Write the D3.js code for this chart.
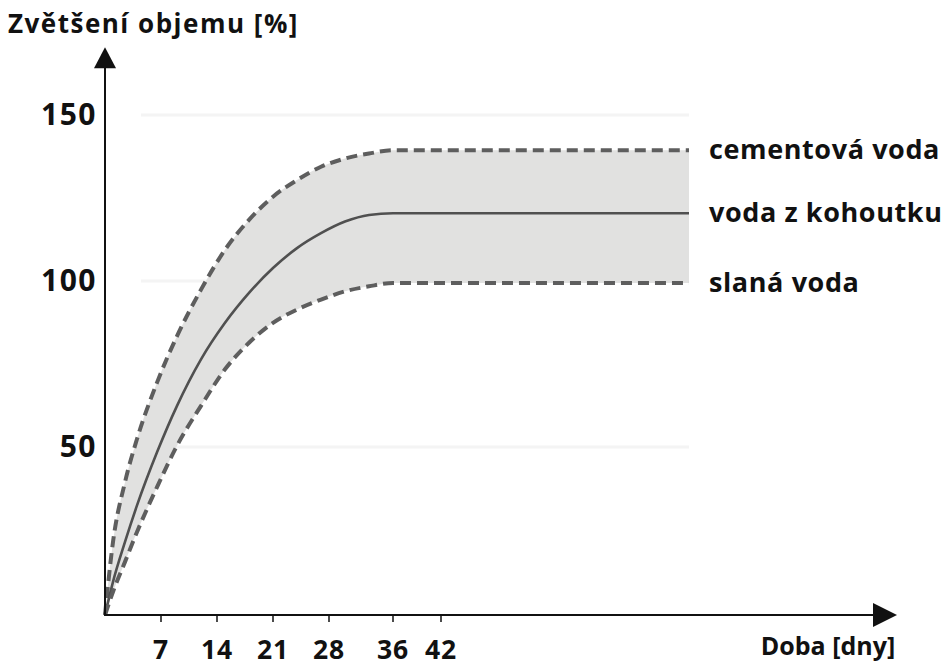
<!DOCTYPE html>
<html>
<head>
<meta charset="utf-8">
<script src="https://cdn.jsdelivr.net/npm/d3@7"></script>
<style>
  html, body { margin: 0; padding: 0; background: #fff; }
  svg { display: block; }
  text { font-family: "Open Sans", Lato, sans-serif; font-weight: bold; fill: #111; }
</style>
</head>
<body>
<svg id="chart" width="946" height="668"></svg>
<script>
// ---- data ----
const days          = [0, 1, 2.5, 4, 6.5, 9, 12, 15, 18, 21, 24, 27, 30, 33, 36, 73];
const cementovaVoda = [0, 22, 40, 53, 70, 84, 98, 110, 119, 126, 131, 135, 137.5, 139, 140, 140];
const vodaZKohoutku = [0, 10, 22, 33, 49, 63, 77, 88, 97, 104.5, 110.5, 115, 118.5, 120.5, 121, 121];
const slanaVoda     = [0, 7, 16, 25, 38.5, 51, 63, 74, 82, 88, 92, 95, 97.5, 99, 100, 100];
const seriesNames   = ["cementová voda", "voda z kohoutku", "slaná voda"];
const xTickValues   = [7, 14, 21, 28, 36, 42];
const yTickValues   = [50, 100, 150];
const gridValues    = [50, 100, 150];
const yTitle = "Zvětšení objemu [%]";
const xTitle = "Doba [dny]";

// ---- scales ----
const svg = d3.select("#chart");
const x = d3.scaleLinear().domain([0, 42]).range([105, 441]);
const y = d3.scaleLinear().domain([0, 100]).range([615, 283]);

const xAxisEnd = 99;   // days, arrow tip
const yAxisEnd = 171;  // %, arrow tip

// gridlines (very faint)
svg.append("g").selectAll("line").data(gridValues).join("line")
  .attr("x1", x(4.5)).attr("x2", x(73))
  .attr("y1", d => y(d) - 2).attr("y2", d => y(d) - 2)
  .attr("stroke", "#f4f4f4").attr("stroke-width", 3);

// band
const bandData = days.map((d, i) => ({ d, hi: cementovaVoda[i], lo: slanaVoda[i] }));
svg.append("path")
  .datum(bandData)
  .attr("fill", "#e1e1e0")
  .attr("d", d3.area().curve(d3.curveMonotoneX)
    .x(p => x(p.d)).y0(p => y(p.lo)).y1(p => y(p.hi)));

const line = d3.line().curve(d3.curveMonotoneX).x(p => x(p[0])).y(p => y(p[1]));
const series = [cementovaVoda, vodaZKohoutku, slanaVoda];
series.forEach((vals, i) => {
  const pts = days.map((d, j) => [d, vals[j]]);
  svg.append("path")
    .datum(pts)
    .attr("fill", "none")
    .attr("stroke", i === 1 ? "#505050" : "#5e5e5e")
    .attr("stroke-width", i === 1 ? 2.6 : 4)
    .attr("stroke-dasharray", i === 1 ? null : "11,6")
    .attr("d", line);
});

// series labels
svg.append("g").selectAll("text").data(seriesNames).join("text")
  .attr("x", x(73) + 20)
  .attr("y", (d, i) => y(series[i][series[i].length - 1]) + 9)
  .attr("font-size", 27)
  .attr("letter-spacing", 0.6)
  .text(d => d);

// axes
const axisColor = "#111";
svg.append("line")
  .attr("x1", x(0)).attr("x2", x(xAxisEnd) - 20)
  .attr("y1", y(0)).attr("y2", y(0))
  .attr("stroke", axisColor).attr("stroke-width", 2);
svg.append("line")
  .attr("x1", x(0)).attr("x2", x(0))
  .attr("y1", y(0) + 1).attr("y2", y(yAxisEnd) + 18)
  .attr("stroke", axisColor).attr("stroke-width", 2);

// arrows
const xt = x(xAxisEnd), yt = y(0);
svg.append("path")
  .attr("d", `M${xt},${yt} L${xt - 24},${yt - 12} L${xt - 24},${yt + 12} Z`)
  .attr("fill", axisColor);
const ax = x(0), ay = y(yAxisEnd);
svg.append("path")
  .attr("d", `M${ax},${ay} L${ax - 11},${ay + 21} L${ax + 11},${ay + 21} Z`)
  .attr("fill", axisColor);

// x ticks
const xt_g = svg.append("g");
xt_g.selectAll("line").data(xTickValues).join("line")
  .attr("x1", d => x(d)).attr("x2", d => x(d))
  .attr("y1", y(0)).attr("y2", y(0) + 7)
  .attr("stroke", axisColor).attr("stroke-width", 1.5);
xt_g.selectAll("text").data(xTickValues).join("text")
  .attr("x", d => x(d)).attr("y", 659)
  .attr("text-anchor", "middle").attr("font-size", 26.5)
  .attr("letter-spacing", 0.8)
  .text(d => d);

// y tick labels
svg.append("g").selectAll("text").data(yTickValues).join("text")
  .attr("x", 97).attr("y", d => y(d) + 8)
  .attr("text-anchor", "end").attr("font-size", 30)
  .attr("letter-spacing", 1.5)
  .text(d => d);

// titles
svg.append("text").attr("x", 8).attr("y", 33).attr("font-size", 26)
  .attr("letter-spacing", 1.5).text(yTitle);
svg.append("text").attr("x", 828).attr("y", 655).attr("text-anchor", "middle")
  .attr("font-size", 25).text(xTitle);
</script>
</body>
</html>
